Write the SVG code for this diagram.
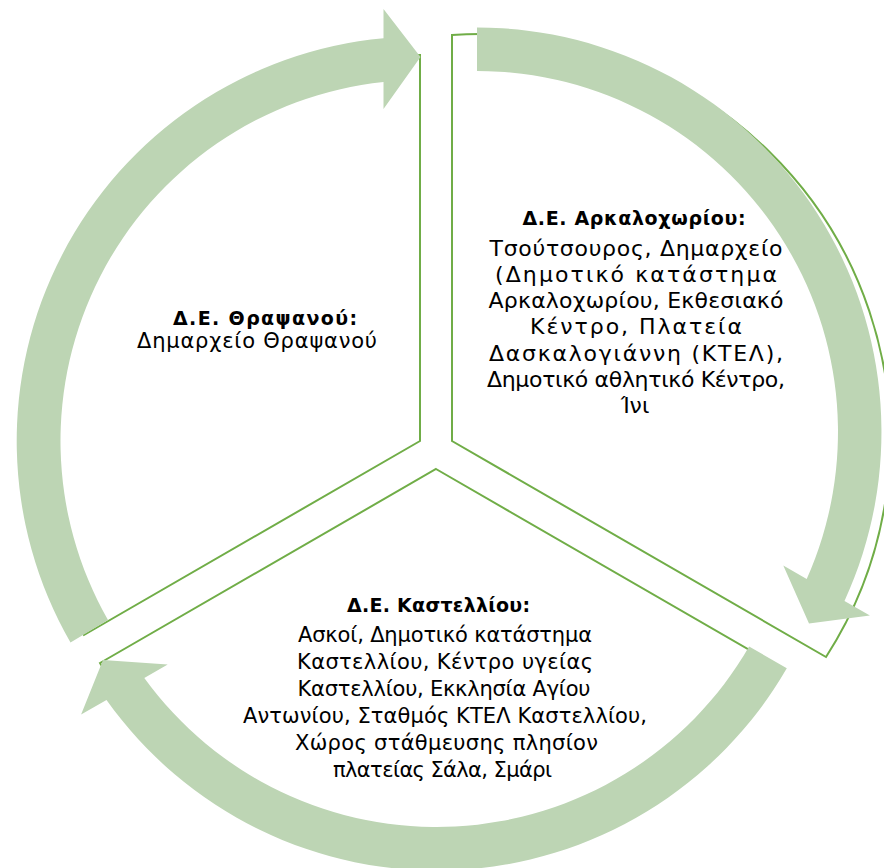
<svg xmlns="http://www.w3.org/2000/svg" width="884" height="868" viewBox="0 0 884 868">
<style>
.pie{fill:#ffffff;stroke:#70AD47;stroke-width:2;stroke-linejoin:miter}
.arr{fill:#BDD5B4;stroke:none}
.t{font-family:"DejaVu Sans","Noto Sans",sans-serif;font-weight:bold;font-size:19px;text-anchor:middle;fill:#000}
.b{font-family:"DejaVu Sans","Noto Sans",sans-serif;font-size:21px;text-anchor:middle;fill:#000}
.br{font-family:"DejaVu Sans","Noto Sans",sans-serif;font-size:22px;text-anchor:middle;fill:#000}
</style>
<rect width="884" height="868" fill="#ffffff"/>
<g id="node-thrapsano">
<path class="pie" d="M420,441 L84,635 A387,387 0 0 1 420,55 Z"/>
<text class="t" x="265" y="325" textLength="184" lengthAdjust="spacing">Δ.Ε. Θραψανού:</text>
<text class="b" x="257" y="348" textLength="240" lengthAdjust="spacing">Δημαρχείο Θραψανού</text>
</g>
<g id="node-arkalochori">
<path class="pie" d="M452,441 L452,35 A402,402 0 0 1 625.5,61.2 A402,402 0 0 1 826,657 Z"/>
<text class="t" x="634" y="225" textLength="223" lengthAdjust="spacing">Δ.Ε. Αρκαλοχωρίου:</text>
<text class="br" x="636" y="255.5" textLength="293" lengthAdjust="spacing">Τσούτσουρος, Δημαρχείο</text>
<text class="br" x="636" y="281.75" textLength="282" lengthAdjust="spacing">(Δημοτικό κατάστημα</text>
<text class="br" x="636" y="308" textLength="295" lengthAdjust="spacing">Αρκαλοχωρίου, Εκθεσιακό</text>
<text class="br" x="636" y="334.25" textLength="212" lengthAdjust="spacing">Κέντρο, Πλατεία</text>
<text class="br" x="636" y="360.5" textLength="294" lengthAdjust="spacing">Δασκαλογιάννη (ΚΤΕΛ),</text>
<text class="br" x="636" y="386.75" textLength="298" lengthAdjust="spacing">Δημοτικό αθλητικό Κέντρο,</text>
<text class="br" x="635" y="413">Ίνι</text>
</g>
<g id="node-kastelli">
<path class="pie" d="M436,469 L772,663 A388,388 0 0 1 100,663 Z"/>
<text class="t" x="438.5" y="612" textLength="183" lengthAdjust="spacing">Δ.Ε. Καστελλίου:</text>
<text class="b" x="445" y="642" textLength="294" lengthAdjust="spacing">Ασκοί, Δημοτικό κατάστημα</text>
<text class="b" x="445" y="669" textLength="296" lengthAdjust="spacing">Καστελλίου, Κέντρο υγείας</text>
<text class="b" x="444" y="696" textLength="293" lengthAdjust="spacing">Καστελλίου, Εκκλησία Αγίου</text>
<text class="b" x="445" y="723" textLength="404" lengthAdjust="spacing">Αντωνίου, Σταθμός ΚΤΕΛ Καστελλίου,</text>
<text class="b" x="446.5" y="750" textLength="303" lengthAdjust="spacing">Χώρος στάθμευσης πλησίον</text>
<text class="b" x="442.5" y="777" textLength="219" lengthAdjust="spacing">πλατείας Σάλα, Σμάρι</text>
</g>
<g id="connectors">
<path id="arrow-right" class="arr" d="M477,27.5 A404.5,404.5 0 0 1 844.5,600.9 L869.9,615.5 L809,623.5 L783.3,565.5 L806.7,579 A361,361 0 0 0 477,71 Z"/>
<path id="arrow-bottom" class="arr" d="M786.8,668.3 A404.5,404.5 0 0 1 106.5,699.9 L81.1,714.5 L103,660 L167.7,664.5 L144.3,678 A361,361 0 0 0 749.1,646.5 Z"/>
<path id="arrow-left" class="arr" d="M70.5,642.5 A404.5,404.5 0 0 1 383.5,38.2 L383.5,9 L420.5,57 L383.5,109 L383.5,82 A361,361 0 0 0 108,620 Z"/>
</g>
</svg>
